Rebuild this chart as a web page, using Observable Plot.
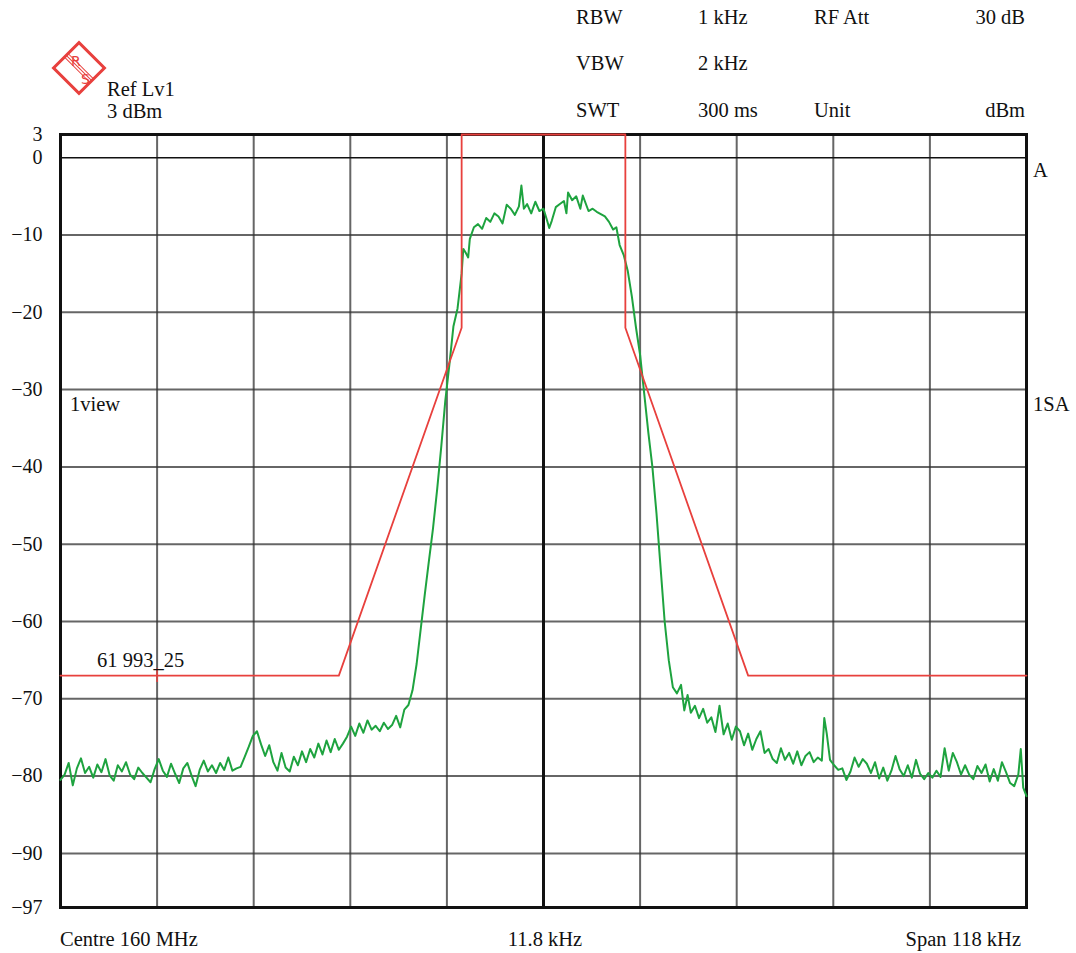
<!DOCTYPE html>
<html><head><meta charset="utf-8">
<script src="https://cdn.jsdelivr.net/npm/d3@7"></script>
<script src="https://cdn.jsdelivr.net/npm/@observablehq/plot@0.6"></script>
<style>
body{margin:0;background:#fff;}
#wrap{position:relative;width:1076px;height:953px;}
#wrap svg{position:absolute;left:0;top:0;}
</style></head><body><div id="wrap"></div>
<script>
// Frequency offset from centre (kHz) and level (dBm) of the measured trace
const trace = [
[-59,-80.5],[-58.5,-79.8],[-58,-78.3],[-57.5,-81.2],[-57,-79.0],[-56.5,-77.7],[-56,-79.6],[-55.5,-78.8],[-55,-80.2],[-54.5,-78.5],
[-54,-79.5],[-53.5,-77.8],[-53,-79.9],[-52.5,-80.6],[-52,-78.6],[-51.5,-79.4],[-51,-78.2],[-50.5,-79.8],[-50,-80.4],[-49.5,-78.9],
[-49,-79.6],[-48.5,-80.2],[-48,-80.8],[-47.5,-79.1],[-47,-77.8],[-46.5,-79.3],[-46,-80.1],[-45.5,-78.4],[-45,-79.7],[-44.5,-80.9],
[-44,-79.0],[-43.5,-78.3],[-43,-79.9],[-42.5,-81.3],[-42,-79.2],[-41.5,-78.0],[-41,-79.4],[-40.5,-78.6],[-40,-79.6],[-39.5,-78.3],
[-39,-79.2],[-38.5,-77.6],[-38,-79.3],[-37.5,-79.0],[-37,-78.8],[-36.5,-77.5],[-36,-76.2],[-35.5,-74.8],[-35,-74.2],[-34.5,-75.9],
[-34,-77.4],[-33.5,-76.0],[-33,-78.2],[-32.5,-79.3],[-32,-77.0],[-31.5,-78.9],[-31,-79.4],[-30.5,-77.5],[-30,-78.6],[-29.5,-76.8],
[-29,-78.2],[-28.5,-76.5],[-28,-77.6],[-27.5,-75.8],[-27,-77.2],[-26.5,-75.4],[-26,-76.9],[-25.5,-75.2],[-25,-76.6],[-24.5,-75.8],
[-24,-74.9],[-23.5,-73.6],[-23,-74.8],[-22.5,-73.2],[-22,-74.4],[-21.5,-72.8],[-21,-74.0],[-20.5,-73.5],[-20,-74.2],[-19.5,-73.1],
[-19,-73.9],[-18.5,-73.4],[-18,-72.2],[-17.5,-73.7],[-17,-71.4],[-16.5,-70.8],[-16,-68.9],[-15.5,-65.5],[-15,-61.0],[-14.5,-56.5],
[-14,-52.2],[-13.5,-48.0],[-13,-43.0],[-12.5,-37.5],[-12,-31.5],[-11.5,-26.8],[-11,-21.8],[-10.5,-19.5],[-10,-15.0],[-9.8,-11.8],
[-9.5,-12.3],[-9.2,-12.9],[-9,-10.5],[-8.5,-9.0],[-8,-8.6],[-7.5,-9.2],[-7,-7.8],[-6.5,-8.3],[-6,-7.2],[-5.5,-7.6],
[-5,-8.5],[-4.5,-6.1],[-4,-6.6],[-3.5,-7.4],[-3,-6.3],[-2.7,-3.6],[-2.4,-6.6],[-2,-6.0],[-1.5,-7.2],[-1,-5.7],
[-0.5,-6.9],[0,-6.6],[0.4,-8.0],[0.7,-9.1],[1,-8.2],[1.5,-6.4],[2,-6.0],[2.5,-5.6],[2.8,-7.2],[3,-4.5],
[3.5,-5.5],[4,-5.0],[4.5,-6.6],[4.8,-4.9],[5.5,-6.9],[6,-6.6],[6.5,-7.0],[7,-7.3],[7.5,-7.6],[8,-8.3],
[8.5,-9.3],[8.9,-9.0],[9.3,-11.3],[9.8,-12.6],[10.3,-14.7],[10.8,-18.0],[11.3,-22.0],[11.8,-25.5],[12.3,-30.5],[12.8,-35.5],
[13.3,-40.0],[13.8,-46.0],[14.3,-53.0],[14.8,-60.0],[15.3,-65.0],[15.8,-68.5],[16.3,-69.3],[16.8,-68.2],[17.2,-71.5],[17.6,-69.5],
[18,-71.8],[18.5,-70.9],[19,-72.5],[19.5,-71.3],[20,-73.1],[20.5,-72.4],[21,-74.3],[21.5,-70.9],[22,-74.6],[22.5,-73.2],
[23,-75.3],[23.5,-73.6],[24,-74.2],[24.5,-76.0],[25,-74.5],[25.5,-76.6],[26,-75.2],[26.5,-74.2],[27,-77.0],[27.5,-76.5],
[28,-77.8],[28.5,-78.3],[29,-76.4],[29.5,-77.9],[30,-77.0],[30.5,-78.4],[31,-76.8],[31.5,-78.6],[32,-77.4],[32.5,-76.9],
[33,-78.2],[33.5,-77.6],[34,-78.0],[34.3,-72.5],[34.6,-74.5],[35,-77.9],[35.5,-78.6],[36,-79.2],[36.5,-79.0],[37,-80.5],
[37.5,-79.4],[38,-77.6],[38.5,-78.8],[39,-77.8],[39.5,-78.4],[40,-79.6],[40.5,-78.2],[41,-80.3],[41.5,-78.9],[42,-80.6],
[42.5,-79.3],[43,-77.4],[43.5,-79.1],[44,-80.0],[44.5,-78.6],[45,-80.2],[45.5,-77.9],[46,-79.7],[46.5,-80.4],[47,-79.6],
[47.5,-80.2],[48,-79.3],[48.5,-80.1],[49,-76.4],[49.5,-79.3],[50,-77.0],[50.5,-78.2],[51,-79.8],[51.5,-78.6],[52,-79.8],
[52.5,-80.4],[53,-78.7],[53.5,-79.6],[54,-78.5],[54.5,-80.7],[55,-79.1],[55.5,-80.6],[56,-78.2],[56.5,-79.5],[57,-80.9],
[57.5,-81.3],[58,-79.8],[58.3,-76.5],[58.6,-81.5],[59,-82.6]
];
// Spectrum emission mask (limit line)
const maskKHz = [-59, -25, -10, -10, 10, 10, 25, 59];
const maskDbm = [-67, -67, -22, 3, 3, -22, -67, -67];
// Axis ticks
const yTicks = [3, 0, -10, -20, -30, -40, -50, -60, -70, -80, -90, -97];
const yGrid = [-10, -20, -30, -40, -50, -60, -70, -80, -90];
const xGrid = [-47.2, -35.4, -23.6, -11.8, 11.8, 23.6, 35.4, 47.2];
const markerKHz = [-47.2];
const markerDbm = [-67];

const RED = "#e8403d", GREEN = "#1ea33f";
const font = '"Liberation Serif","Times New Roman",serif';
const maskData = maskKHz.map((k, i) => ({k, d: maskDbm[i]}));
const traceData = trace.map(([k, d]) => ({k, d}));

const chart = Plot.plot({
  width: 1076, height: 953,
  marginLeft: 60, marginRight: 50, marginTop: 134, marginBottom: 46,
  style: {fontFamily: font, fontSize: "20px", color: "#111", background: "transparent"},
  x: {domain: [-59, 59], axis: null},
  y: {domain: [-97, 3], axis: null},
  marks: [
    Plot.ruleY(yGrid, {stroke: "#333", strokeWidth: 2, strokeOpacity: 0.75}),
    Plot.ruleX(xGrid, {stroke: "#333", strokeWidth: 2, strokeOpacity: 0.75}),
    Plot.ruleY([0], {stroke: "#111", strokeWidth: 1.5}),
    Plot.ruleX([0], {stroke: "#111", strokeWidth: 3}),
    Plot.axisY({ticks: yTicks, tickSize: 0, tickPadding: 18, fontSize: 20, label: null}),
    Plot.frame({stroke: "#111", strokeWidth: 3}),
    Plot.line(traceData, {x: "k", y: "d", stroke: GREEN, strokeWidth: 2}),
    Plot.line(maskData, {x: "k", y: "d", stroke: RED, strokeWidth: 1.8}),
    Plot.ruleX(markerKHz, {y1: markerDbm.map(v => v + 0.9), y2: markerDbm.map(v => v - 0.9), stroke: RED, strokeWidth: 1.5})
  ]
});
const wrap = document.getElementById("wrap");
wrap.appendChild(chart);

// Overlay texts (instrument settings and annotations)
const ov = d3.select(wrap).append("svg").attr("width", 1076).attr("height", 953)
  .style("font-family", font).style("font-size", "20.5px").attr("fill", "#111");
const labels = [
  ["RBW", 576, 24, "start"], ["1 kHz", 698, 24, "start"], ["RF Att", 814, 24, "start"], ["30 dB", 1025, 24, "end"],
  ["VBW", 576, 70, "start"], ["2 kHz", 698, 70, "start"],
  ["SWT", 576, 117, "start"], ["300 ms", 698, 117, "start"], ["Unit", 814, 117, "start"], ["dBm", 1025, 117, "end"],
  ["Ref Lv1", 107, 96, "start"], ["3 dBm", 107, 118, "start"],
  ["1view", 70, 411, "start"], ["A", 1033, 177, "start"], ["1SA", 1033, 411, "start"],
  ["61 993_25", 97, 667, "start"],
  ["Centre 160 MHz", 60, 946, "start"], ["11.8 kHz", 545, 946, "middle"], ["Span 118 kHz", 1021, 946, "end"]
];
ov.selectAll("text.l").data(labels).join("text").attr("class", "l")
  .attr("x", d => d[1]).attr("y", d => d[2]).attr("text-anchor", d => d[3]).text(d => d[0]);

// R&S logo
const g = ov.append("g").attr("transform", "translate(79,68) rotate(45)");
g.append("rect").attr("x", -18).attr("y", -18).attr("width", 36).attr("height", 36)
  .attr("fill", "none").attr("stroke", RED).attr("stroke-width", 3);
[-2.5, 0, 2.5].forEach(o => g.append("line").attr("x1", -18).attr("x2", 18).attr("y1", o).attr("y2", o)
  .attr("stroke", RED).attr("stroke-width", 1));
ov.append("text").attr("x", 71).attr("y", 66).attr("fill", RED).attr("font-size", 14).attr("font-family", "DejaVu Sans").text("R");
ov.append("text").attr("x", 81).attr("y", 84).attr("fill", RED).attr("font-size", 14).attr("font-family", "DejaVu Sans").text("S");
</script>
</body></html>
